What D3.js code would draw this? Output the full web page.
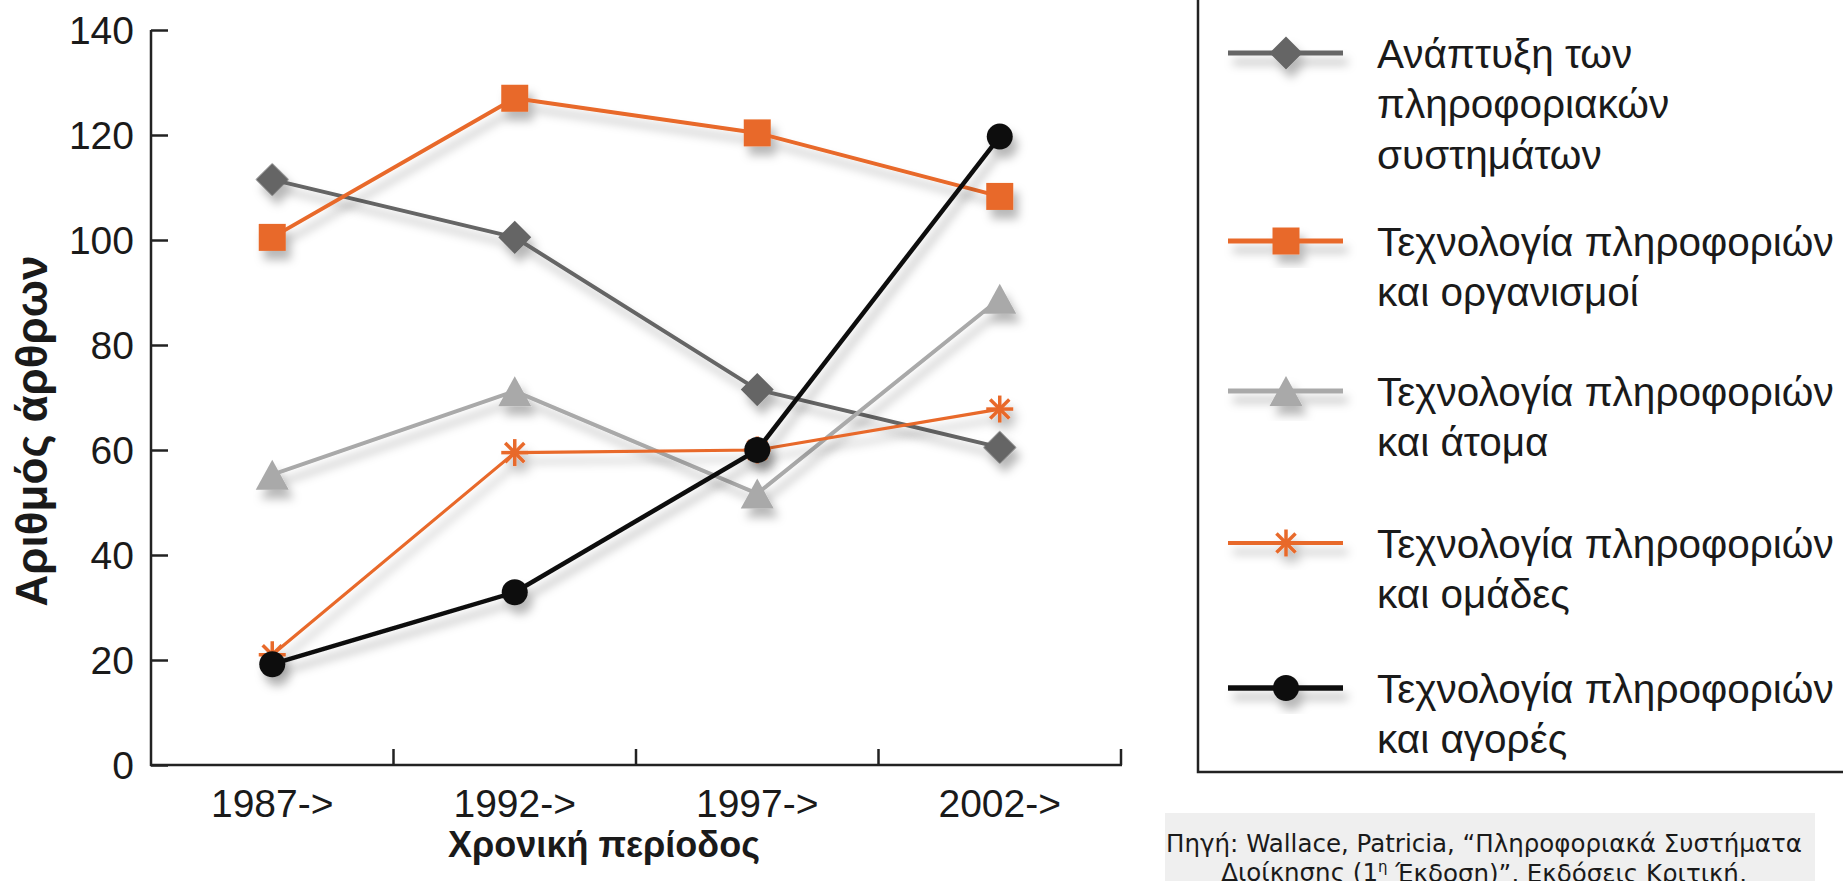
<!DOCTYPE html>
<html>
<head>
<meta charset="utf-8">
<script src="https://cdn.jsdelivr.net/npm/d3@7"></script>
<style>
  body { margin: 0; background: #fff; }
  svg { display: block; }
</style>
</head>
<body>
<div id="chart"></div>
<script>
// Data
var periods = ["1987->", "1992->", "1997->", "2002->"];
var yTicks = [0, 20, 40, 60, 80, 100, 120, 140];
var seriesNames = [
  ["Ανάπτυξη των", "πληροφοριακών", "συστημάτων"],
  ["Τεχνολογία πληροφοριών", "και οργανισμοί"],
  ["Τεχνολογία πληροφοριών", "και άτομα"],
  ["Τεχνολογία πληροφοριών", "και ομάδες"],
  ["Τεχνολογία πληροφοριών", "και αγορές"]
];
var devSystems = [111.5, 100.5, 71.5, 60.5];
var itOrganisations = [100.5, 127, 120.4, 108.3];
var itIndividuals = [55.3, 71.2, 51.7, 88.8];
var itGroups = [21, 59.5, 60, 67.8];
var itMarkets = [19.2, 32.9, 60, 119.7];

var series = [
  { values: devSystems, color: "#656565", width: 4, marker: "diamond" },
  { values: itOrganisations, color: "#e8692a", width: 4, marker: "square" },
  { values: itIndividuals, color: "#a9a9a9", width: 4, marker: "triangle" },
  { values: itGroups, color: "#e8692a", width: 3.2, marker: "asterisk" },
  { values: itMarkets, color: "#111111", width: 4.5, marker: "circle" }
];

var W = 1843, H = 881;
var svg = d3.select("#chart").append("svg").attr("width", W).attr("height", H);

var defs = svg.append("defs");
var f = defs.append("filter").attr("id", "shadow")
  .attr("x", "-50%").attr("y", "-50%").attr("width", "200%").attr("height", "200%");
f.append("feDropShadow").attr("dx", 5).attr("dy", 9).attr("stdDeviation", 5)
  .attr("flood-color", "#000").attr("flood-opacity", 0.28);

var font = "'Liberation Sans', Arial, Helvetica, sans-serif";

var x = d3.scaleBand().domain(periods).range([151, 1121]).padding(0);
var y = d3.scaleLinear().domain([0, 140]).range([765, 30]);

// axes
var yAxis = svg.append("g").attr("transform", "translate(151,0)")
  .call(d3.axisRight(y).tickValues(yTicks).tickSize(17).tickFormat(""));
yAxis.select(".domain").remove();
svg.append("line").attr("x1", 151).attr("x2", 151).attr("y1", 30).attr("y2", 766)
  .attr("stroke", "#222").attr("stroke-width", 2.5);
yAxis.selectAll("line").attr("stroke", "#222").attr("stroke-width", 2.5);

svg.append("g").selectAll("text").data(yTicks).enter().append("text")
  .attr("x", 134).attr("y", d => y(d)).attr("dy", "0.36em")
  .attr("text-anchor", "end").attr("font-family", font).attr("font-size", 39)
  .attr("fill", "#1a1a1a").text(d => d);

svg.append("line").attr("x1", 150).attr("x2", 1122).attr("y1", 765).attr("y2", 765)
  .attr("stroke", "#222").attr("stroke-width", 2.5);
svg.append("g").selectAll("line").data(periods).enter().append("line")
  .attr("x1", d => x(d) + x.bandwidth()).attr("x2", d => x(d) + x.bandwidth())
  .attr("y1", 765).attr("y2", 749).attr("stroke", "#222").attr("stroke-width", 2.5);

svg.append("g").selectAll("text").data(periods).enter().append("text")
  .attr("x", d => x(d) + x.bandwidth() / 2).attr("y", 803).attr("dy", "0.36em")
  .attr("text-anchor", "middle").attr("font-family", font).attr("font-size", 39)
  .attr("fill", "#1a1a1a").text(d => d);

svg.append("text").attr("x", 604).attr("y", 844).attr("dy", "0.36em")
  .attr("text-anchor", "middle").attr("font-family", font).attr("font-size", 36)
  .attr("font-weight", "bold").attr("fill", "#1a1a1a").text("Χρονική περίοδος");

svg.append("text").attr("transform", "translate(31,431) rotate(-90)").attr("dy", "0.36em")
  .attr("text-anchor", "middle").attr("font-family", font).attr("font-size", 44)
  .attr("font-weight", "bold").attr("fill", "#1a1a1a").text("Αριθμός άρθρων");

// marker drawing
function drawMarker(g, type, color, cx, cy) {
  if (type == "diamond") {
    g.append("path").attr("d", d3.symbol().type(d3.symbolSquare).size(545)())
      .attr("transform", "translate(" + cx + "," + cy + ") rotate(45)").attr("fill", color);
  } else if (type == "square") {
    g.append("path").attr("d", d3.symbol().type(d3.symbolSquare).size(729)())
      .attr("transform", "translate(" + cx + "," + cy + ")").attr("fill", color);
  } else if (type == "triangle") {
    g.append("path").attr("d", "M0,-15L16.5,15L-16.5,15Z")
      .attr("transform", "translate(" + cx + "," + cy + ")").attr("fill", color);
  } else if (type == "circle") {
    g.append("circle").attr("cx", cx).attr("cy", cy).attr("r", 13).attr("fill", color);
  } else if (type == "asterisk") {
    var r = 13.5;
    [90, 45, -45, 0].forEach(function (a) {
      var rad = a * Math.PI / 180;
      g.append("line")
        .attr("x1", cx - r * Math.cos(rad)).attr("y1", cy - r * Math.sin(rad))
        .attr("x2", cx + r * Math.cos(rad)).attr("y2", cy + r * Math.sin(rad))
        .attr("stroke", color).attr("stroke-width", 3.5);
    });
  }
}

// series
var line = d3.line().x((d, i) => x(periods[i]) + x.bandwidth() / 2).y(d => y(d));
series.forEach(function (s) {
  var g = svg.append("g").attr("filter", "url(#shadow)");
  g.append("path").attr("d", line(s.values)).attr("fill", "none")
    .attr("stroke", s.color).attr("stroke-width", s.width).attr("stroke-linejoin", "round");
  s.values.forEach(function (v, i) {
    drawMarker(g, s.marker, s.color, x(periods[i]) + x.bandwidth() / 2, y(v));
  });
});

// legend
svg.append("rect").attr("x", 1198).attr("y", -5).attr("width", 700).attr("height", 777)
  .attr("fill", "none").attr("stroke", "#222").attr("stroke-width", 2.5);
var legendY = [53, 241, 391, 543, 688];
series.forEach(function (s, i) {
  var g = svg.append("g").attr("filter", "url(#shadow)");
  g.append("line").attr("x1", 1228).attr("x2", 1343).attr("y1", legendY[i]).attr("y2", legendY[i])
    .attr("stroke", s.color).attr("stroke-width", s.width + 1);
  drawMarker(g, s.marker, s.color, 1286, legendY[i]);
  var t = svg.append("text").attr("font-family", font).attr("font-size", 40.5).attr("fill", "#1a1a1a");
  seriesNames[i].forEach(function (ln, j) {
    t.append("tspan").attr("x", 1377).attr("y", legendY[i] + j * 50.5).attr("dy", "0.36em").text(ln);
  });
});

// source note
svg.append("rect").attr("x", 1165).attr("y", 813).attr("width", 650).attr("height", 80)
  .attr("fill", "#efefef");
var src = svg.append("g").attr("font-family", "'DejaVu Sans', sans-serif")
  .attr("font-size", 24.5).attr("fill", "#1a1a1a").attr("text-anchor", "middle");
src.append("text").attr("x", 1484).attr("y", 843).attr("dy", "0.36em")
  .text("Πηγή: Wallace, Patricia, “Πληροφοριακά Συστήματα");
var l2 = src.append("text").attr("x", 1484).attr("y", 872).attr("dy", "0.36em");
l2.append("tspan").text("Διοίκησης (1");
l2.append("tspan").attr("font-size", 15).attr("dy", "-0.6em").text("η");
l2.append("tspan").attr("dy", "0.4em").text(" Έκδοση)”, Εκδόσεις Κριτική,");
</script>
</body>
</html>
